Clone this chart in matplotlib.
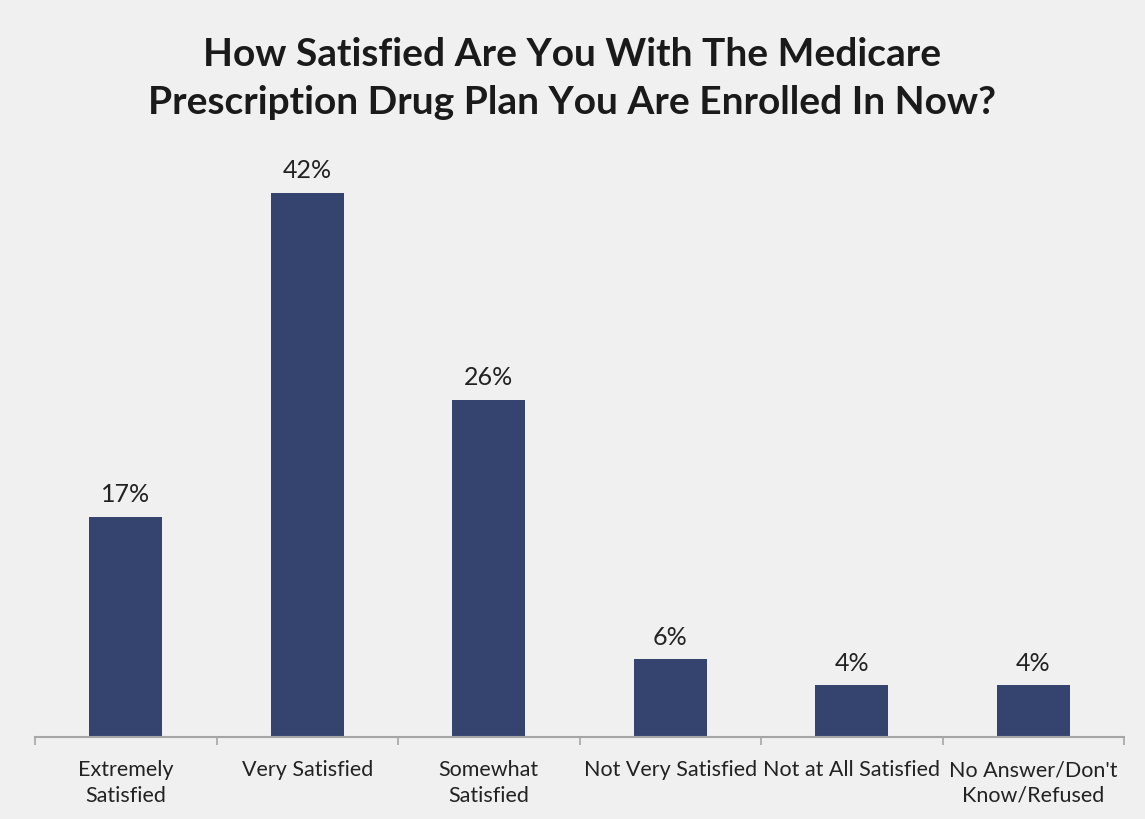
import matplotlib
matplotlib.use("Agg")
import matplotlib.pyplot as plt
import numpy as np

categories = ["Extremely\nSatisfied", "Very Satisfied", "Somewhat\nSatisfied",
              "Not Very Satisfied", "Not at All Satisfied", "No Answer/Don't\nKnow/Refused"]
values = [17, 42, 26, 6, 4, 4]
value_labels = ["17%", "42%", "26%", "6%", "4%", "4%"]
title = "How Satisfied Are You With The Medicare\nPrescription Drug Plan You Are Enrolled In Now?"

plt.rcParams['font.family'] = ['Lato', 'DejaVu Sans']
bg = "#f0f0f0"
fig = plt.figure(figsize=(11.45, 8.2), dpi=100, facecolor=bg)
ax = fig.add_axes([35/1145, 82/820, (1124-35)/1145, (738-155)/820])
ax.set_facecolor(bg)

x = np.arange(len(categories))
bars = ax.bar(x, values, width=0.4, color="#34446e", zorder=2)
for xi, v, lab in zip(x, values, value_labels):
    ax.text(xi, v + 0.9, lab, ha="center", va="bottom", fontsize=18, color="#222222")

ax.set_xlim(-0.5, len(categories) - 0.5)
ax.set_ylim(0, 45)
ax.set_yticks([])
for s in ["top", "right", "left"]:
    ax.spines[s].set_visible(False)
ax.spines["bottom"].set_color("#a6a6a6")
ax.spines["bottom"].set_linewidth(1.5)

ax.set_xticks(x)
ax.set_xticklabels(categories, fontsize=15.5, color="#222222", linespacing=1.35)
ax.tick_params(axis="x", which="major", length=0, pad=16)
ax.set_xticks(np.arange(len(categories) + 1) - 0.5, minor=True)
ax.tick_params(axis="x", which="minor", length=6, width=1.2, color="#a6a6a6")

fig.text(0.5, 0.955, title, ha="center", va="top", fontsize=28, fontweight="bold",
         color="#1a1a1a", linespacing=1.45)

fig.savefig("out.png", dpi=100, facecolor=bg)
